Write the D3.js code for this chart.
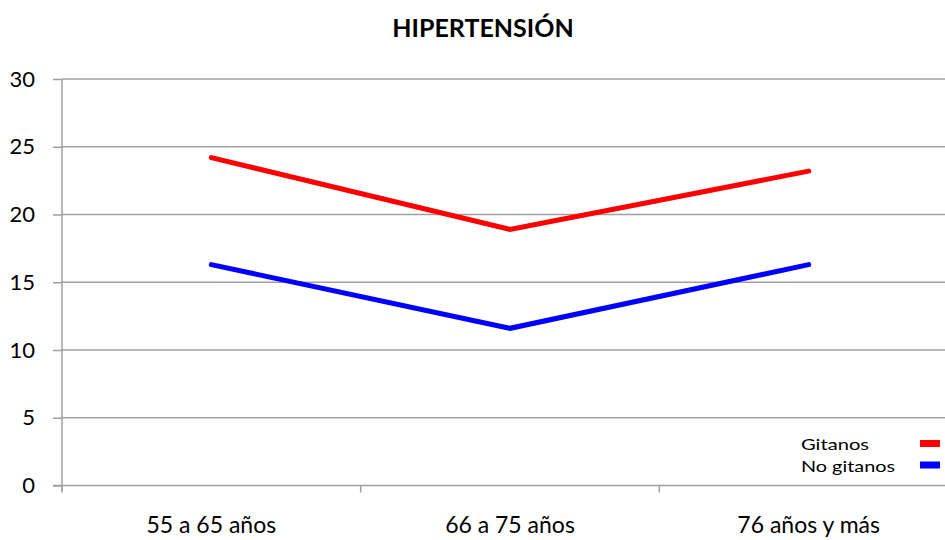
<!DOCTYPE html>
<html>
<head>
<meta charset="utf-8">
<script src="https://cdn.jsdelivr.net/npm/d3@7"></script>
<style>
  html, body { margin: 0; padding: 0; background: #fff; }
  svg { display: block; font-family: Lato, "Open Sans", sans-serif; }
</style>
</head>
<body>
<svg id="chart" width="945" height="540"></svg>
<script>
// Hypertension prevalence by age group
const categories = ["55 a 65 años", "66 a 75 años", "76 años y más"];
const gitanos = [24.2, 18.9, 23.2];
const noGitanos = [16.3, 11.6, 16.3];
const yTicks = [0, 5, 10, 15, 20, 25, 30];
const seriesNames = ["Gitanos", "No gitanos"];
const seriesColors = ["#ff0000", "#0000ff"];

const series = [
  { name: seriesNames[0], values: gitanos, color: seriesColors[0] },
  { name: seriesNames[1], values: noGitanos, color: seriesColors[1] }
];

const svg = d3.select("#chart");
const plot = { left: 62, right: 958, top: 79, bottom: 485.5 };

const x = d3.scaleBand().domain(categories).range([plot.left, plot.right]);
const y = d3.scaleLinear().domain([0, 30]).range([plot.bottom, plot.top]);

// Title
svg.append("text")
  .attr("x", 483).attr("y", 37)
  .attr("text-anchor", "middle")
  .attr("font-size", 25).attr("font-weight", "bold")
  .text("HIPERTENSIÓN");

// Horizontal gridlines
svg.append("g").selectAll("line").data(yTicks.filter(d => d > 0)).join("line")
  .attr("x1", plot.left).attr("x2", 945)
  .attr("y1", d => y(d)).attr("y2", d => y(d))
  .attr("stroke", "#a0a0a0").attr("stroke-width", 1.5);

// Y axis
const yAxis = svg.append("g").attr("transform", `translate(${plot.left},0)`)
  .call(d3.axisLeft(y).tickValues(yTicks).tickSize(9).tickPadding(18));
yAxis.select(".domain").attr("stroke", "#a0a0a0").attr("stroke-width", 1.5)
  .attr("d", `M0,${plot.top}V${plot.bottom + 6}`);
yAxis.selectAll(".tick line").attr("stroke", "#a0a0a0").attr("stroke-width", 1.5);
yAxis.selectAll(".tick text").attr("font-size", 22).attr("fill", "#000")
  .attr("font-family", "Lato, sans-serif");

// X axis
const xAxis = svg.append("g").attr("transform", `translate(0,${plot.bottom})`)
  .call(d3.axisBottom(x).tickSize(0).tickPadding(31));
xAxis.select(".domain").attr("stroke", "#a0a0a0").attr("stroke-width", 1.5)
  .attr("d", `M${plot.left - 9},0H945`);
xAxis.selectAll(".tick text").attr("font-size", 23).attr("fill", "#000")
  .attr("font-family", "Lato, sans-serif");
// Category boundary ticks
const bounds = categories.map(c => x(c));
svg.append("g").selectAll("line").data(bounds).join("line")
  .attr("x1", d => d).attr("x2", d => d)
  .attr("y1", plot.bottom).attr("y2", plot.bottom + 7)
  .attr("stroke", "#a0a0a0").attr("stroke-width", 1.5);

// Series lines
const line = d3.line()
  .x((d, i) => x(categories[i]) + x.bandwidth() / 2)
  .y(d => y(d));
svg.append("g").selectAll("path").data(series).join("path")
  .attr("d", d => line(d.values))
  .attr("fill", "none")
  .attr("stroke", d => d.color)
  .attr("stroke-width", 5)
  .attr("stroke-linecap", "round")
  .attr("stroke-linejoin", "miter");

// Legend
const legend = svg.append("g");
const legendWidths = [68, 94];
series.forEach((s, i) => {
  const ly = 443.5 + i * 21.5;
  legend.append("text")
    .attr("x", 801).attr("y", ly + 6.5)
    .attr("font-size", 15).attr("fill", "#000")
    .attr("textLength", legendWidths[i])
    .attr("lengthAdjust", "spacingAndGlyphs")
    .text(s.name);
  legend.append("rect")
    .attr("x", 920).attr("y", ly - 3.5)
    .attr("width", 20).attr("height", 7)
    .attr("fill", s.color);
});
</script>
</body>
</html>
